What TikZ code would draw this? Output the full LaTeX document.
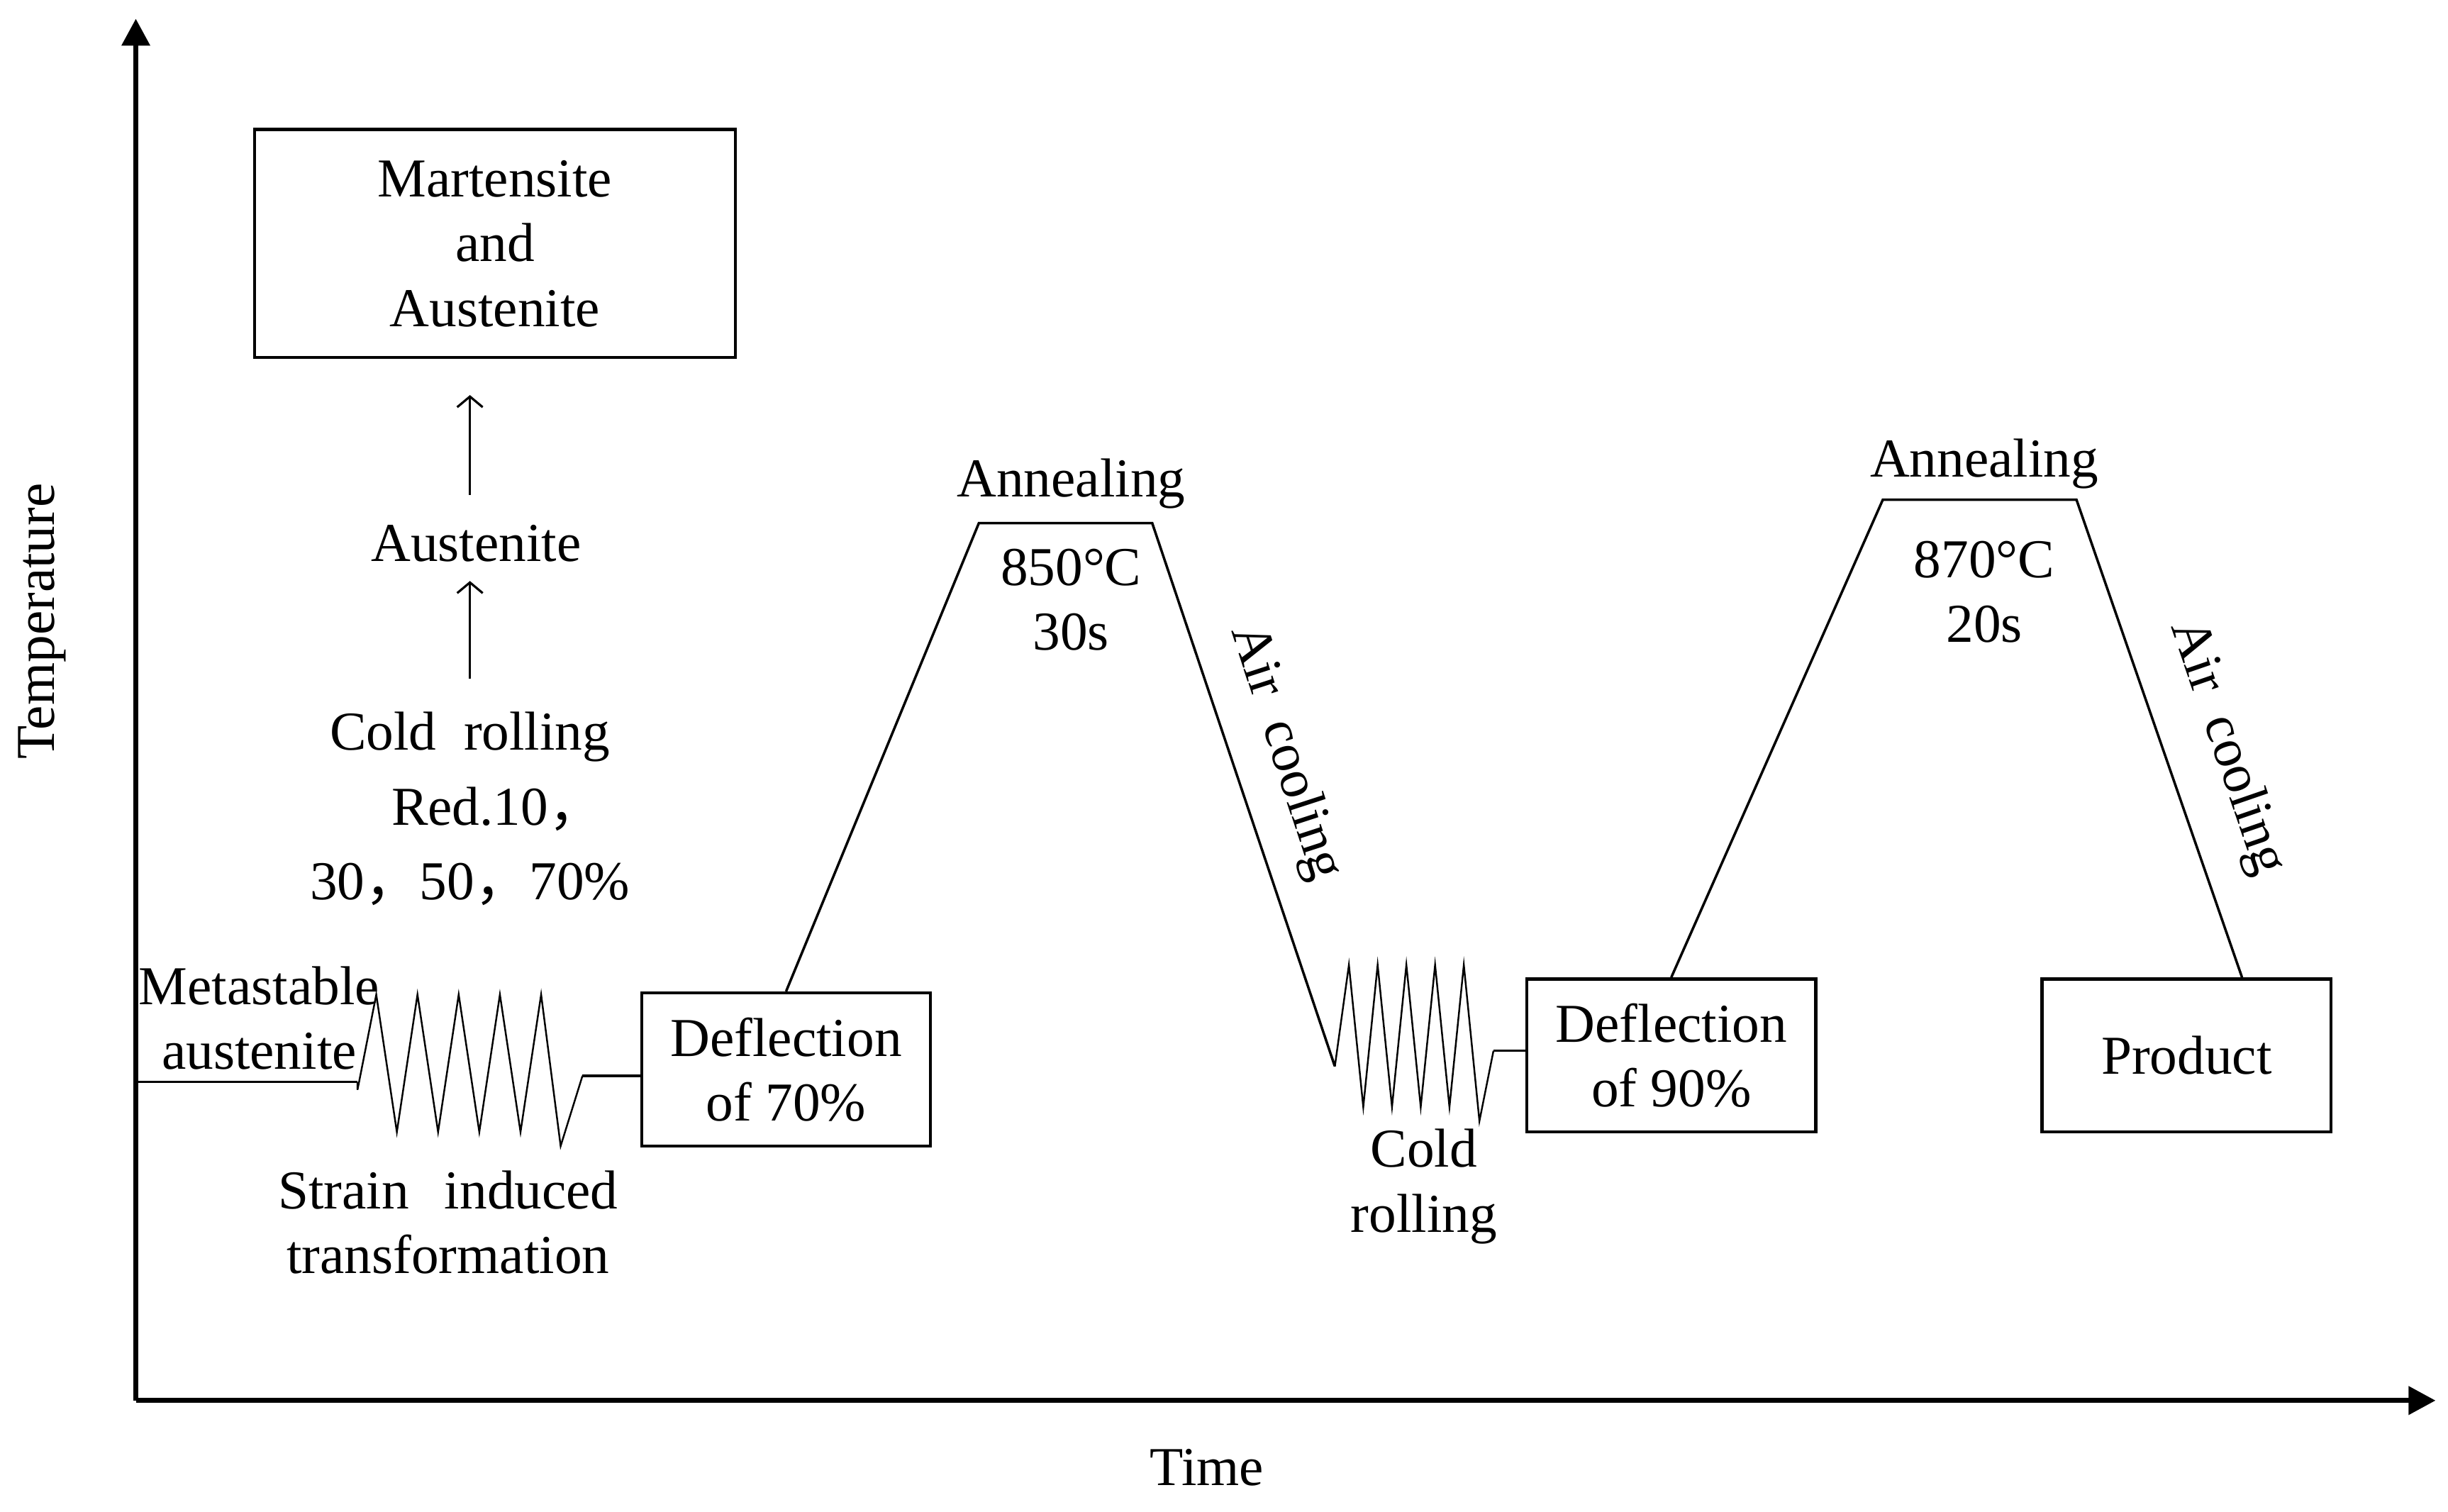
\documentclass[tikz,border=0pt]{standalone}
\usepackage{fontspec}
\setmainfont{Liberation Serif}
\newfontfamily\cjk{Noto Sans CJK SC}
\usetikzlibrary{arrows.meta, positioning, calc}
\newcommand{\pxu}{0.022015cm}
\newcommand{\fc}{{\cjk ，}}

\begin{document}
\begin{tikzpicture}[x=\pxu, y=-\pxu, font=\fontsize{22}{26}\selectfont,
    axisline/.style={line width=2pt, -{Triangle[length=3.8mm,width=3.9mm]}},
    procline/.style={line width=1pt, line join=miter},
    zigline/.style={line width=0.7pt},
    stagebox/.style={draw, line width=1.3pt, minimum width=185*\pxu, minimum height=98*\pxu, align=center, inner sep=0pt},
    txt/.style={align=center, inner sep=0pt},
    uparrow/.style={line width=0.9pt, -{Straight Barb[length=1.5mm,width=3.6mm]}}]
    \useasboundingbox (0,0) rectangle (1568,968);

    % Axes
    \coordinate (O) at (87,897);
    \coordinate (ytop) at (87,12);
    \coordinate (xend) at (1560,897);
    \draw[axisline] (O) -- (ytop);
    \draw[axisline] (O) -- (xend);
    \node[txt, rotate=90] (templbl) at (27,398) {Temperature};
    \node[txt] (timelbl) at (773,940) {Time};

    % Boxes
    \node[stagebox, minimum width=308*\pxu, minimum height=146*\pxu] (martbox) at (317,156) {Martensite\\and\\Austenite};
    \node[stagebox] (defl1) at (503.5,685) {Deflection\\of 70\%};
    \node[stagebox] (defl2) at (1070.5,676) {Deflection\\of 90\%};
    \node[stagebox] (product) at (1400.5,676) {Product};

    % Labels
    \node[txt] (meta) at (166,652) {Metastable\\austenite};
    \node[txt] (strain) at (287,783) {Strain\hspace{0.65em}induced\\transformation};
    \node[txt] (austenite) at (305,348) {Austenite};
    \node[txt, font=\fontsize{22}{30}\selectfont] (coldroll) at (301,518) {Cold\ \ rolling\\\hspace*{1em}Red.10\fc\\30\fc 50\fc 70\%};
    \node[txt] (coldroll2) at (912,760) {Cold\\rolling};
    \node[txt] (ann1) at (686,310) {Annealing};
    \node[txt] (hold1) at (686,384) {850°C\\30s};
    \node[txt] (ann2) at (1271,297) {Annealing};
    \node[txt] (hold2) at (1271,379) {870°C\\20s};
    \node[txt, rotate=-72] (cool1) at (823,482) {Air\ \ cooling};
    \node[txt, rotate=-71] (cool2) at (1426,479) {Air\ \ cooling};

    % Arrows of the structure change
    \draw[uparrow, shorten <=21*\pxu, shorten >=12*\pxu] (coldroll.north) -- (coldroll.north |- austenite.south);
    \draw[uparrow, shorten <=19*\pxu, shorten >=23*\pxu] (coldroll.north |- austenite.north) -- (coldroll.north |- martbox.south);

    % Process line
    \coordinate (yline) at (87,693);
    \coordinate (z1s) at (229,693);
    \coordinate (a1l) at (627,335);
    \coordinate (a1r) at (738,335);
    \coordinate (z2s) at (855,683);
    \coordinate (a2l) at (1206,320);
    \coordinate (a2r) at (1330,320);

    \draw[procline] (yline) -- (z1s);
    \draw[zigline] (z1s) -- ++(0,5) -- ++(12,-61)
        \foreach \k in {1,...,4} { -- ++(13.2,88) -- ++(13.2,-88) }
        -- ++(12.5,97) -- ++(14,-45) coordinate (z1e);
    \draw[procline] (z1e) -- (z1e -| defl1.west);

    % First annealing
    \draw[procline] (defl1.north) -- (a1l) -- (a1r) -- (z2s);
    \draw[zigline] (z2s) -- ++(9,-65)
        \foreach \k in {1,...,4} { -- ++(9.2,91) -- ++(9.2,-91) }
        -- ++(10,100) -- ++(9,-45) coordinate (z2e);
    \draw[procline] (z2e) -- (z2e -| defl2.west);

    % Second annealing
    \draw[procline] (defl2.north) -- (a2l) -- (a2r) -- ($(product.north)!0.38!(product.north east)$);
\end{tikzpicture}
\end{document}
